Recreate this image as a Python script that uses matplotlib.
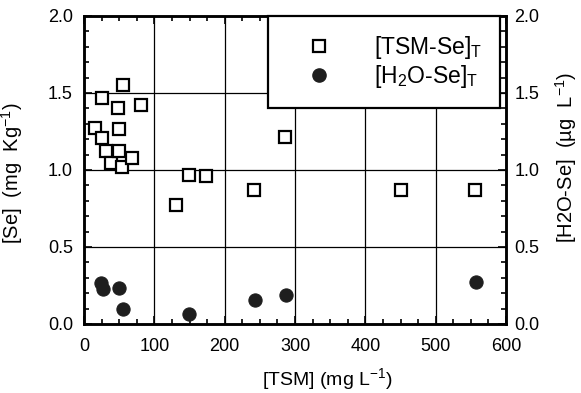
import matplotlib
matplotlib.use("Agg")
import matplotlib.pyplot as plt
from matplotlib.ticker import MultipleLocator, FormatStrFormatter
from matplotlib.lines import Line2D

plt.rcParams['font.family'] = ['Liberation Sans', 'DejaVu Sans']
plt.rcParams['mathtext.default'] = 'regular'

# [TSM-Se]T : particulate selenium vs suspended matter
tsm_sq = [15.6, 25.2, 25.2, 30.9, 38.0, 47.9, 49.8, 50.2, 55.9, 54.5, 67.8, 81.0,
          131, 148.6, 173, 242, 285.5, 450, 556]
se_sq = [1.27, 1.466, 1.208, 1.125, 1.047, 1.40, 1.266, 1.125, 1.55, 1.02, 1.08, 1.42,
         0.77, 0.97, 0.96, 0.87, 1.215, 0.87, 0.87]

# [H2O-Se]T : dissolved selenium vs suspended matter
tsm_c = [24.5, 27.0, 50.2, 55.9, 149.7, 243, 286.8, 557]
se_c = [0.265, 0.225, 0.236, 0.095, 0.065, 0.156, 0.188, 0.275]

fig = plt.figure(figsize=(5.81, 3.93), dpi=100)
ax = fig.add_axes([0.1446, 0.1756, 0.7264, 0.7837])
ax2 = ax.twinx()

ax.set_xlim(0, 600)
ax.set_ylim(0, 2.0)
ax2.set_ylim(0, 2.0)

for y in [0.5, 1.0, 1.5]:
    ax.axhline(y, color='black', lw=0.9, zorder=1)
for x in [100, 200, 300, 400, 500]:
    ax.axvline(x, color='black', lw=0.9, zorder=1)

ax.plot(tsm_sq, se_sq, linestyle='none', marker='s', ms=8.5, mfc='white',
        mec='black', mew=1.6, zorder=3)
ax2.plot(tsm_c, se_c, linestyle='none', marker='o', ms=9.5, mfc='#1e1e1e',
         mec='#1e1e1e', mew=0.8, zorder=3)

ax.xaxis.set_major_locator(MultipleLocator(100))
ax.xaxis.set_minor_locator(MultipleLocator(25))
for a in (ax, ax2):
    a.yaxis.set_major_locator(MultipleLocator(0.5))
    a.yaxis.set_minor_locator(MultipleLocator(0.1))
    a.yaxis.set_major_formatter(FormatStrFormatter('%.1f'))

ax.tick_params(which='both', direction='in', top=True, right=False, width=1.2,
               labelsize=13)
ax.tick_params(axis='y', pad=8)
ax.tick_params(axis='x', pad=10)
ax.tick_params(which='major', length=6)
ax.tick_params(which='minor', length=3.5)
ax2.tick_params(which='both', direction='in', width=1.2, labelsize=13, pad=6)
ax2.tick_params(which='major', length=6)
ax2.tick_params(which='minor', length=3.5)

for a in (ax, ax2):
    for s in a.spines.values():
        s.set_linewidth(1.8)

ax.set_xlabel('[TSM] (mg L$^{-1}$)', fontsize=14)
ax.xaxis.set_label_coords(0.576, -0.138)
ax.set_ylabel('[Se]  (mg  Kg$^{-1}$)', fontsize=14.5)
ax.yaxis.set_label_coords(-0.139, 0.49)
ax2.set_ylabel('[H2O-Se]  (µg  L$^{-1}$)', fontsize=14.5)
ax2.yaxis.set_label_coords(1.111, 0.54)

handles = [
    Line2D([], [], linestyle='none', marker='s', ms=8.5, mfc='white', mec='black', mew=1.6),
    Line2D([], [], linestyle='none', marker='o', ms=9.5, mfc='#1e1e1e', mec='#1e1e1e'),
]
leg = ax2.legend(handles, ['[TSM-Se]$_T$', '[H$_2$O-Se]$_T$'], loc='upper right',
                 bbox_to_anchor=(0.986, 1.0), fontsize=16.5, frameon=True, fancybox=False,
                 edgecolor='black', framealpha=1, borderpad=0.8, handletextpad=1.0,
                 handlelength=2.8, labelspacing=0.08, borderaxespad=0.0)
leg.get_frame().set_linewidth(1.6)
leg.set_zorder(5)

fig.savefig('out.png', dpi=100)
